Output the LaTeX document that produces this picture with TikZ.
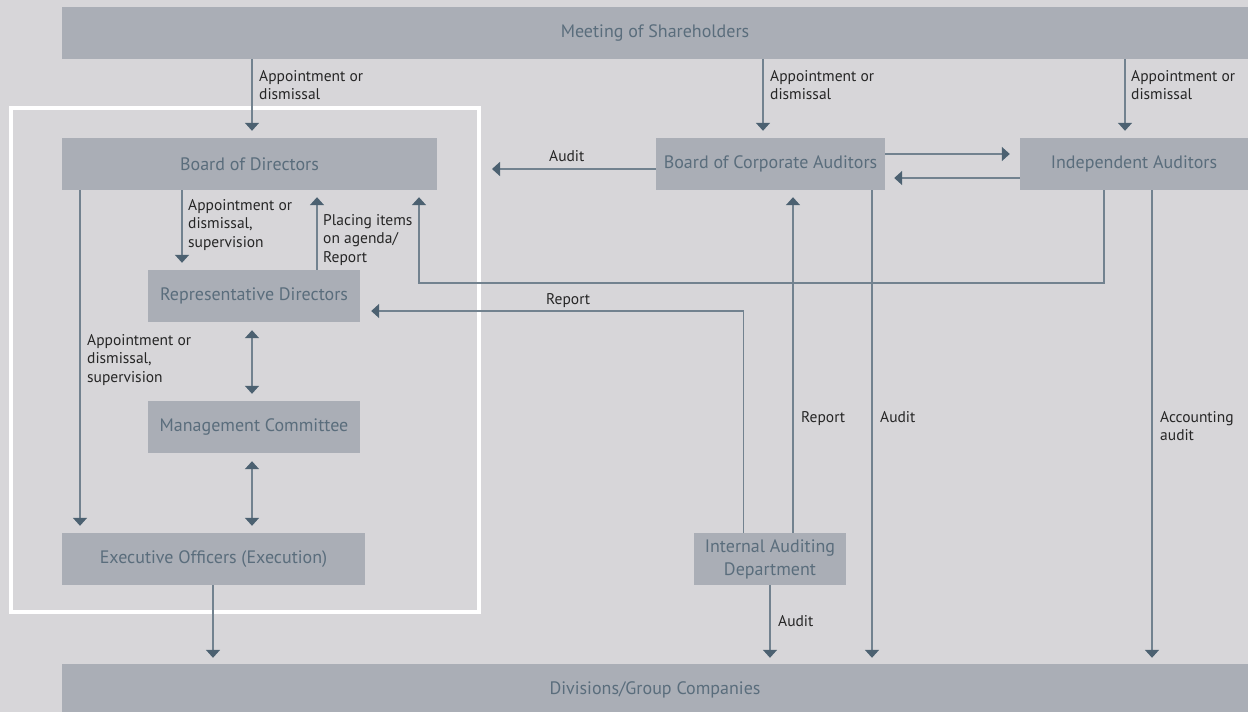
\documentclass[tikz,border=0pt]{standalone}
\usepackage{fontspec}
\setmainfont{PT Sans}
\usetikzlibrary{arrows.meta}
\definecolor{bgc}{HTML}{D7D6D9}
\definecolor{boxc}{HTML}{AAAEB6}
\definecolor{boxtxt}{HTML}{5A6D7C}
\definecolor{linec}{HTML}{72828F}
\definecolor{tipc}{HTML}{4C6171}
\definecolor{lblc}{HTML}{262626}
\tikzstyle{box}=[rectangle,fill=boxc,text=boxtxt,minimum height=52pt,inner sep=0pt,font=\fontsize{18}{23}\selectfont,align=center]
\tikzstyle{lbl}=[anchor=north west,inner sep=0pt,text=lblc,font=\fontsize{15.5}{18.5}\selectfont,align=left]
\tikzstyle{arr}=[-{Triangle[width=14pt,length=8pt,color=tipc]},draw=linec,line width=1.6pt,shorten >=7pt]
\tikzstyle{darr}=[{Triangle[width=14pt,length=8pt,color=tipc]}-{Triangle[width=14pt,length=8pt,color=tipc]},draw=linec,line width=1.6pt,shorten >=7pt,shorten <=8pt]

\begin{document}
\begin{tikzpicture}[x=1pt,y=-1pt]
  \useasboundingbox (0,0) rectangle (1248,712);
  \fill[bgc] (0,0) rectangle (1248,712);
  \draw[white,line width=4pt] (11,108) rectangle (479,612);

  \node[box,minimum width=1186pt] (share) at (655,33) {Meeting of Shareholders};
  \node[box,minimum width=375pt] (bod) at (249.5,164) {Board of Directors};
  \node[box,minimum width=212pt] (rep) at (254,296) {Representative Directors};
  \node[box,minimum width=212pt] (mc) at (254,427) {Management Committee};
  \node[box,minimum width=303pt] (eo) at (213.5,559) {Executive Officers (Execution)};
  \node[box,minimum width=229pt] (bca) at (770.5,164) {Board of Corporate Auditors};
  \node[box,minimum width=228pt] (ia) at (1134,164) {Independent Auditors};
  \node[box,minimum width=152pt] (iad) at (770,559) {Internal Auditing\\Department};
  \node[box,minimum width=1186pt] (div) at (655,690) {Divisions/Group Companies};

  \coordinate (bodin) at (252,0);
  \coordinate (bcain) at (763,0);
  \coordinate (iain) at (1125,0);
  \coordinate (bodsup) at (80,0);
  \coordinate (repsup) at (182,0);
  \coordinate (repup) at (317,0);
  \coordinate (eodown) at (213,0);
  \coordinate (iaout) at (1104,0);
  \coordinate (iabod) at (419,283);
  \coordinate (iadout) at (743.5,0);
  \coordinate (iadrep) at (0,311);
  \coordinate (iadup) at (793,0);
  \coordinate (bcadown) at (872,0);
  \coordinate (iadown) at (1152,0);
  \coordinate (auditend) at (492,169);

  \draw[arr] (share.south -| bodin) -- (bod.north -| bodin);
  \draw[arr] (share.south -| bcain) -- (bca.north -| bcain);
  \draw[arr] (share.south -| iain) -- (ia.north -| iain);
  \draw[arr] (bod.south -| bodsup) -- (eo.north -| bodsup);
  \draw[arr] (bod.south -| repsup) -- (rep.north -| repsup);
  \draw[arr] (rep.north -| repup) -- (bod.south -| repup);
  \draw[darr] (rep.south -| bodin) -- (mc.north -| bodin);
  \draw[darr] (mc.south -| bodin) -- (eo.north -| bodin);
  \draw[arr,shorten >=6pt] (eo.south -| eodown) -- (div.north -| eodown);
  \draw[arr] (ia.south -| iaout) |- (iabod) -- (bod.south -| iabod);
  \draw[arr,shorten >=0pt] ([yshift=-5pt]bca.west) -- (auditend);
  \draw[arr,shorten >=10pt] ([yshift=10pt]bca.east) -- ([yshift=10pt]ia.west);
  \draw[arr,shorten >=9pt] ([yshift=-14pt]ia.west) -- ([yshift=-14pt]bca.east);
  \draw[arr,shorten >=11pt] (iad.north -| iadout) |- (rep.east |- iadrep);
  \draw[arr] (iad.north -| iadup) -- (bca.south -| iadup);
  \draw[arr,shorten >=6pt] (iad.south) -- (div.north -| iad.south);
  \draw[arr,shorten >=6pt] (bca.south -| bcadown) -- (div.north -| bcadown);
  \draw[arr,shorten >=6pt] (ia.south -| iadown) -- (div.north -| iadown);

  \node[lbl] (l1) at (259,70) {Appointment or\\dismissal};
  \node[lbl] (l2) at (770,70) {Appointment or\\dismissal};
  \node[lbl] (l3) at (1131,70) {Appointment or\\dismissal};
  \node[lbl] (l4) at (188,199) {Appointment or\\dismissal,\\supervision};
  \node[lbl] (l5) at (323,214) {Placing items\\on agenda/\\Report};
  \node[lbl] (l6) at (87,334) {Appointment or\\dismissal,\\supervision};
  \node[lbl] (l7) at (549,150) {Audit};
  \node[lbl] (l8) at (546,293) {Report};
  \node[lbl] (l9) at (801,411) {Report};
  \node[lbl] (l10) at (880,411) {Audit};
  \node[lbl] (l11) at (1160,411) {Accounting\\audit};
  \node[lbl] (l12) at (778,615) {Audit};
\end{tikzpicture}
\end{document}
